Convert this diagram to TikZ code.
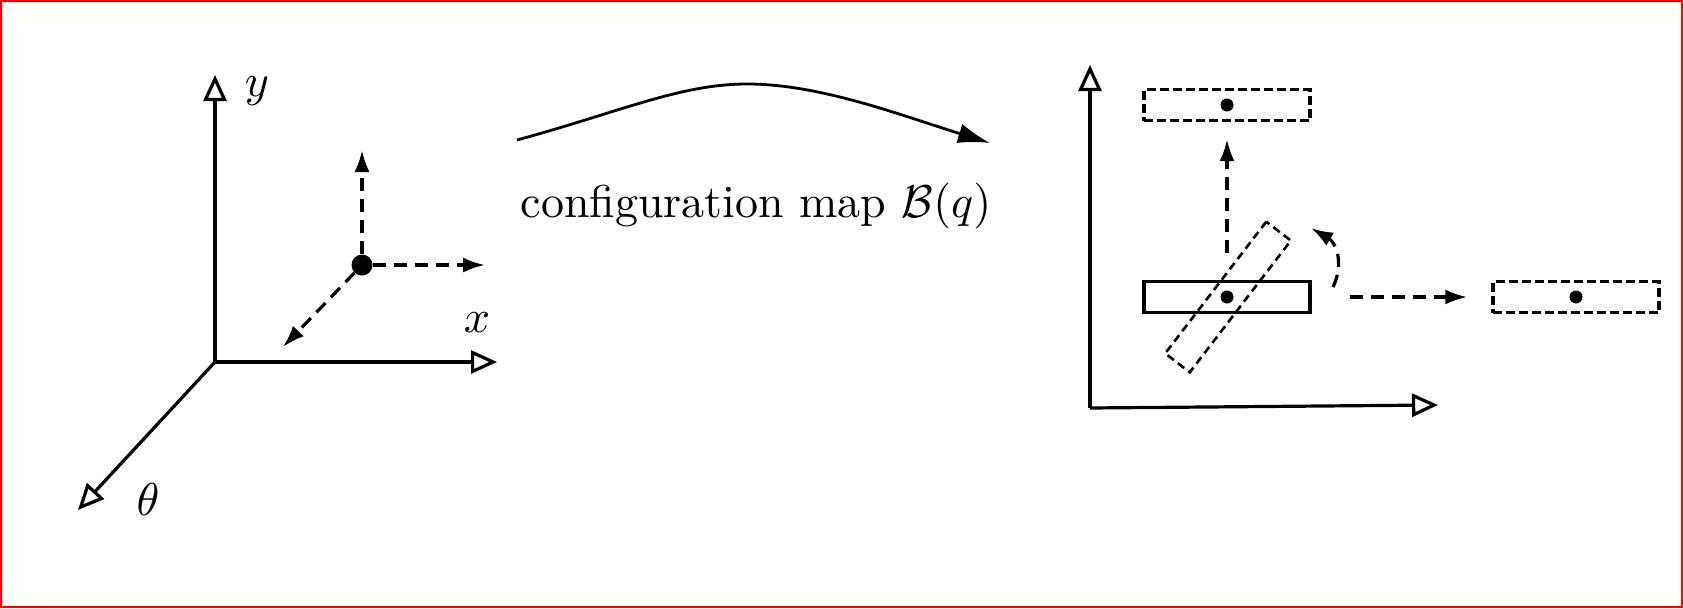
\documentclass[tikz,border=0pt]{standalone}
\usetikzlibrary{arrows.meta}
\begin{document}
\begin{tikzpicture}[x=1pt,y=-1pt,
  ax/.style={line width=3.2pt, -{Triangle[open,length=26pt,width=23pt,line width=3.2pt,fill=white]}},
  dsh/.style={line width=3.2pt, dash pattern=on 13pt off 8pt, -{Latex[length=22pt,width=15pt]}},
  lbl/.style={inner sep=0pt, scale=4.6, transform shape},
  box/.style={draw, line width=3.4pt, minimum width=166pt, minimum height=31pt, inner sep=0pt},
  dbox/.style={box, line width=3.4pt, dash pattern=on 9pt off 4pt},
  dotn/.style={circle, fill, inner sep=0pt, minimum size=13pt}]
\useasboundingbox (0,0) rectangle (1683,608);
\draw[red, line width=2pt] (1,1) rectangle (1682,607);
% left axes
\coordinate (O) at (215,362);
\coordinate (Y) at (215,75);
\coordinate (X) at (497,362);
\coordinate (T) at (78,510);
\draw[ax] (O) -- (Y);
\draw[ax] (O) -- (X);
\draw[ax] (O) -- (T);
\node[lbl] (ly) at (257,91) {$y$};
\node[lbl] (lx) at (477,323) {$x$};
\node[lbl] (lt) at (148,500) {$\theta$};
\node[dotn, minimum size=21pt] (P) at (362,265) {};
\coordinate (Pu) at (362,150);
\coordinate (Pr) at (485,265);
\coordinate (Pd) at (283,347);
\draw[dsh] (P) -- (Pu);
\draw[dsh] (P) -- (Pr);
\draw[dsh] (P) -- (Pd);
% map arrow
\coordinate (A) at (517,140);
\coordinate (M) at (747,84);
\coordinate (B) at (990,143);
\draw[line width=2.8pt, -{Latex[length=32pt,width=20pt]}] (A) .. controls (620,112) and (680,84) .. (M) .. controls (820,84) and (900,115) .. (B);
\node[lbl] (map) at (756,206) {configuration map $\mathcal{B}(q)$};
% right axes
\coordinate (O2) at (1090,408);
\coordinate (Y2) at (1090,65);
\coordinate (X2) at (1438,405);
\draw[ax] (O2) -- (Y2);
\draw[ax] (O2) -- (X2);
\node[dbox, line width=2.6pt, dash pattern=on 8pt off 5pt, rotate=52.5] (R3) at (1228,297) {};
\node[box] (R0) at (1227,297) {};
\node[dbox] (R1) at (1227,105) {};
\node[dbox] (R2) at (1576,297) {};
\node[dotn] (d0) at (R0) {};
\node[dotn] (d1) at (R1) {};
\node[dotn] (d2) at (R2) {};
\draw[dsh] ([yshift=27pt]R0.north) -- ([yshift=-17pt]R1.south);
\draw[dsh] ([xshift=38pt]R0.east) -- ([xshift=-24pt]R2.west);
\coordinate (c0) at (1333,287);
\coordinate (c1) at (1311,228);
\draw[dsh] (c0) .. controls (1345,262) and (1335,242) .. (c1);
\end{tikzpicture}
\end{document}
